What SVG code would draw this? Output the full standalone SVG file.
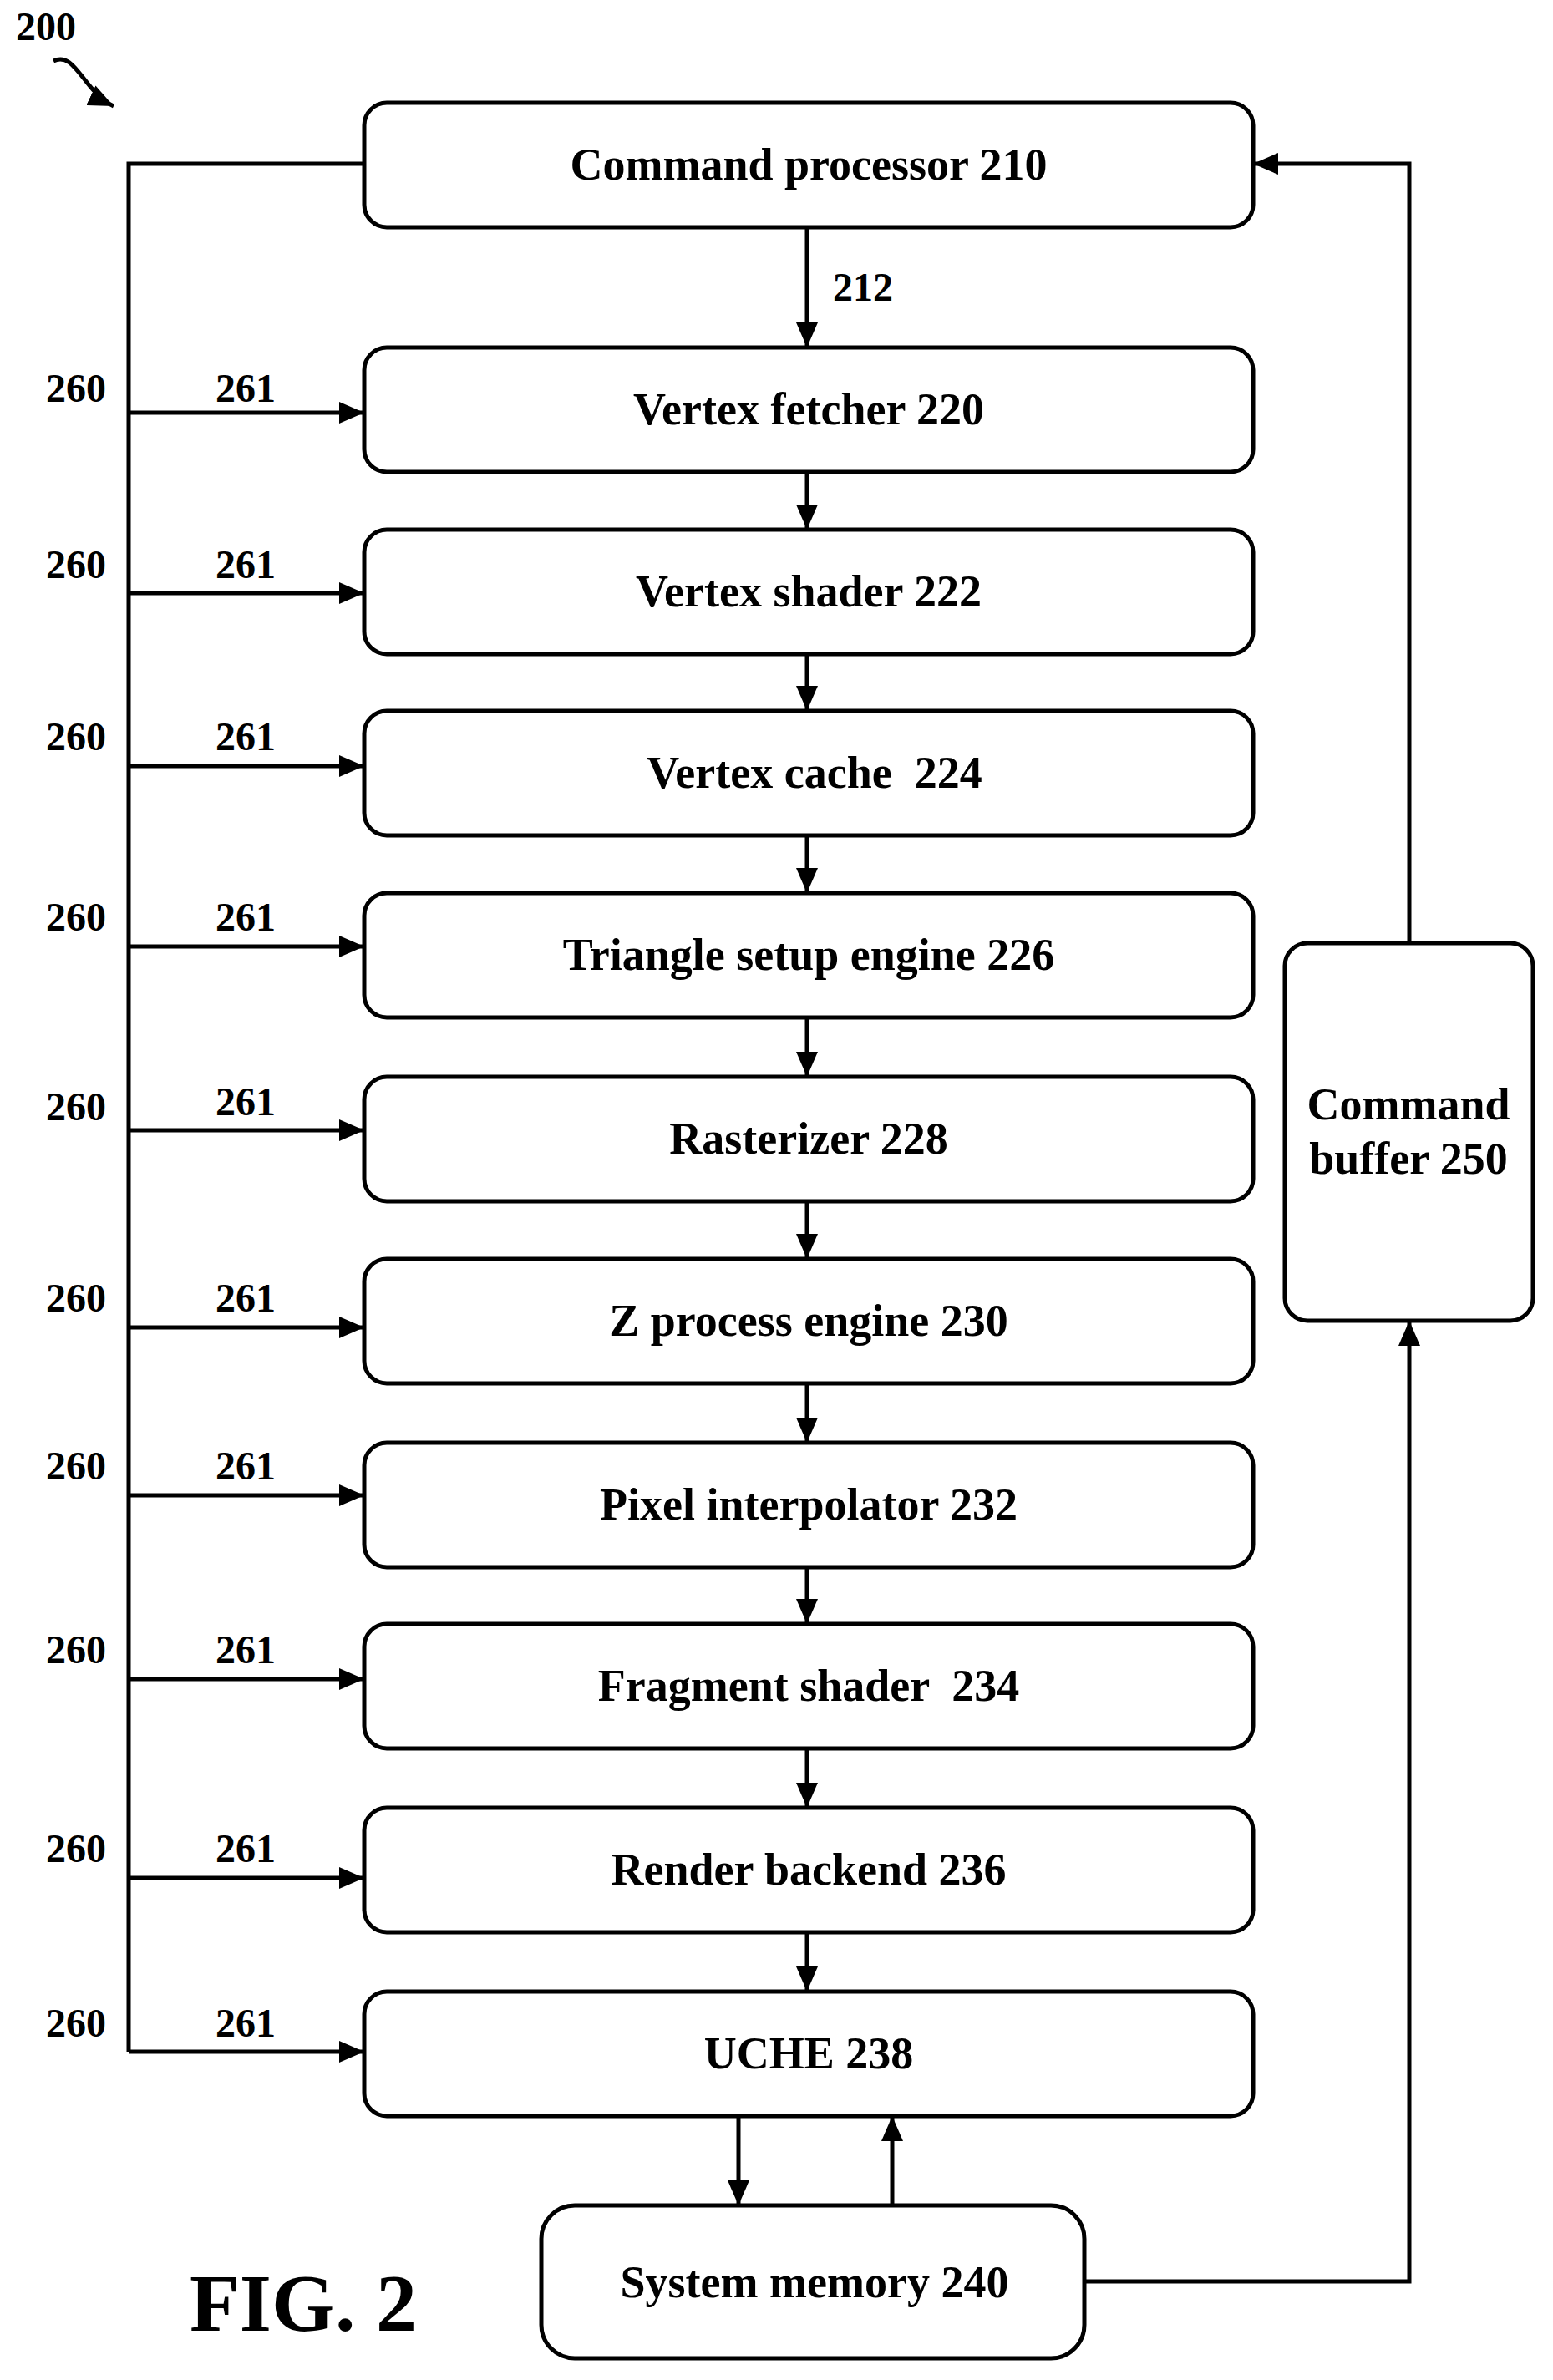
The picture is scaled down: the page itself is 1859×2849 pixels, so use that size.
<svg xmlns="http://www.w3.org/2000/svg" width="1859" height="2849" viewBox="0 0 1859 2849">
<style>
.b{fill:#fff;stroke:#000;stroke-width:5}
.t{font-family:"Liberation Serif",serif;font-weight:bold;font-size:54px;text-anchor:middle}
.l{font-family:"Liberation Serif",serif;font-weight:bold;font-size:48px;text-anchor:middle}
.c{fill:none;stroke:#000;stroke-width:5}
.c.e{marker-end:url(#m)}
</style>
<defs><marker id="m" markerWidth="30" markerHeight="26" refX="30" refY="13" orient="auto" markerUnits="userSpaceOnUse"><path d="M0,0L30,13L0,26z"/></marker></defs>
<g id="connectors">
<path class="c" d="M436,196H154V2456"/>
<path class="c e" d="M154,494H436"/><path class="c e" d="M154,710H436"/><path class="c e" d="M154,917H436"/><path class="c e" d="M154,1133H436"/><path class="c e" d="M154,1353H436"/><path class="c e" d="M154,1589H436"/><path class="c e" d="M154,1790H436"/><path class="c e" d="M154,2010H436"/><path class="c e" d="M154,2248H436"/><path class="c e" d="M154,2456H436"/>
<path class="c e" d="M966,272V416"/><path class="c e" d="M966,565V634"/><path class="c e" d="M966,783V851"/><path class="c e" d="M966,1000V1069"/><path class="c e" d="M966,1218V1289"/><path class="c e" d="M966,1438V1507"/><path class="c e" d="M966,1656V1727"/><path class="c e" d="M966,1876V1944"/><path class="c e" d="M966,2093V2164"/><path class="c e" d="M966,2313V2384"/>
<path class="c e" d="M884,2533V2640"/>
<path class="c e" d="M1068,2640V2533"/>
<path class="c e" d="M1687,1129V196H1500"/>
<path class="c e" d="M1298,2731H1687V1581"/>
<path class="c e" d="M64,73C90,60 100,110 136,127" stroke-width="4"/>
</g>
<g id="n210"><rect class="b" x="436" y="123" width="1064" height="149" rx="27"/><text class="t" x="968" y="215">Command processor 210</text></g>
<g id="n220"><rect class="b" x="436" y="416" width="1064" height="149" rx="27"/><text class="t" x="968" y="508">Vertex fetcher 220</text></g>
<g id="n222"><rect class="b" x="436" y="634" width="1064" height="149" rx="27"/><text class="t" x="968" y="726">Vertex shader 222</text></g>
<g id="n224"><rect class="b" x="436" y="851" width="1064" height="149" rx="27"/><text class="t" x="975" y="943" xml:space="preserve">Vertex cache  224</text></g>
<g id="n226"><rect class="b" x="436" y="1069" width="1064" height="149" rx="27"/><text class="t" x="968" y="1161">Triangle setup engine 226</text></g>
<g id="n228"><rect class="b" x="436" y="1289" width="1064" height="149" rx="27"/><text class="t" x="968" y="1381">Rasterizer 228</text></g>
<g id="n230"><rect class="b" x="436" y="1507" width="1064" height="149" rx="27"/><text class="t" x="968" y="1599">Z process engine 230</text></g>
<g id="n232"><rect class="b" x="436" y="1727" width="1064" height="149" rx="27"/><text class="t" x="968" y="1819">Pixel interpolator 232</text></g>
<g id="n234"><rect class="b" x="436" y="1944" width="1064" height="149" rx="27"/><text class="t" x="968" y="2036" xml:space="preserve">Fragment shader  234</text></g>
<g id="n236"><rect class="b" x="436" y="2164" width="1064" height="149" rx="27"/><text class="t" x="968" y="2256">Render backend 236</text></g>
<g id="n238"><rect class="b" x="436" y="2384" width="1064" height="149" rx="27"/><text class="t" x="968" y="2476">UCHE 238</text></g>
<g id="n240"><rect class="b" x="648" y="2640" width="650" height="183" rx="40"/><text class="t" x="975" y="2750">System memory 240</text></g>
<g id="n250"><rect class="b" x="1538" y="1129" width="297" height="452" rx="27"/><text class="t" x="1686" y="1340">Command</text><text class="t" x="1686" y="1405">buffer 250</text></g>
<g id="labels">
<text class="l" x="1033" y="360">212</text>
<text class="l" x="55" y="48">200</text>
<text x="363" y="2790" style="font-family:'Liberation Serif',serif;font-weight:bold;font-size:98px;text-anchor:middle">FIG. 2</text>
<g class="l">
<text x="91" y="481">260</text><text x="91" y="692">260</text><text x="91" y="898">260</text><text x="91" y="1114">260</text><text x="91" y="1341">260</text><text x="91" y="1570">260</text><text x="91" y="1771">260</text><text x="91" y="1991">260</text><text x="91" y="2229">260</text><text x="91" y="2438">260</text>
<text x="294" y="481">261</text><text x="294" y="692">261</text><text x="294" y="898">261</text><text x="294" y="1114">261</text><text x="294" y="1335">261</text><text x="294" y="1570">261</text><text x="294" y="1771">261</text><text x="294" y="1991">261</text><text x="294" y="2229">261</text><text x="294" y="2438">261</text>
</g></g>
</svg>
